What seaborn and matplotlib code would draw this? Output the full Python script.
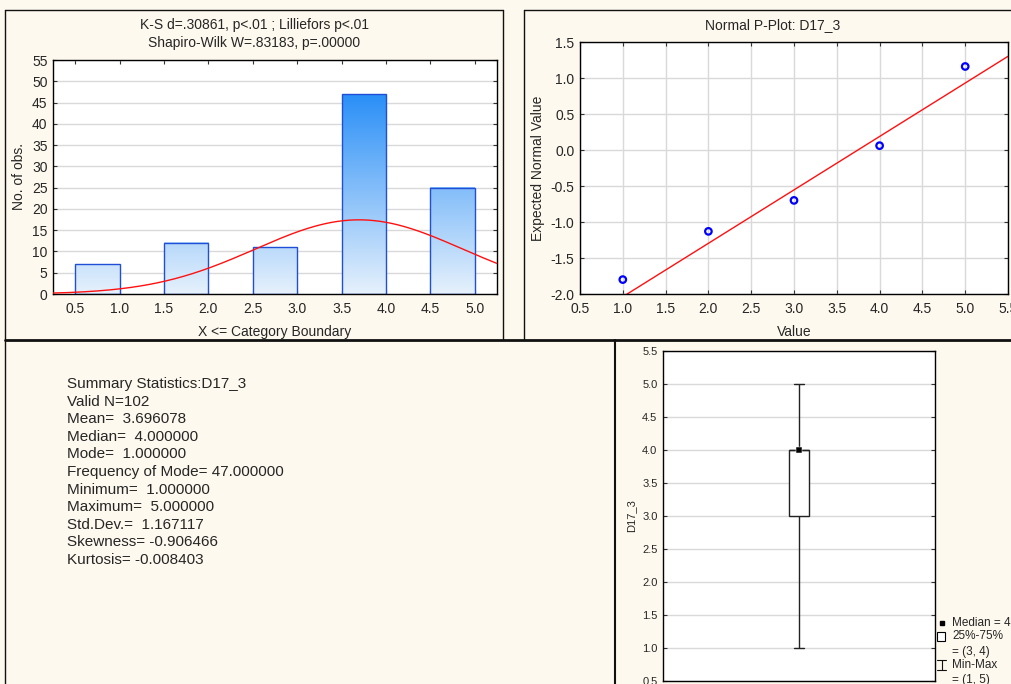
import numpy as np
import pandas as pd
import seaborn as sns
import matplotlib.pyplot as plt
from matplotlib.colors import LinearSegmentedColormap
from matplotlib.patches import Rectangle
from matplotlib.lines import Line2D

bin_centers = [0.75, 1.75, 2.75, 3.75, 4.75]
bin_counts = [7, 12, 11, 47, 25]
bin_width = 0.5
hist_xticks = [0.5, 1.0, 1.5, 2.0, 2.5, 3.0, 3.5, 4.0, 4.5, 5.0]

n_valid = 102
mean_val = 3.696078
std_val = 1.167117

pp_values = [1, 2, 3, 4, 5]
pp_expected = [-1.80, -1.13, -0.70, 0.06, 1.16]
fit_slope = 0.742
fit_intercept = -2.78

box_levels = [1, 2, 3, 4, 5]
box_median = 4.0

summary_lines = [
    "Summary Statistics:D17_3",
    "Valid N=102",
    "Mean=  3.696078",
    "Median=  4.000000",
    "Mode=  1.000000",
    "Frequency of Mode= 47.000000",
    "Minimum=  1.000000",
    "Maximum=  5.000000",
    "Std.Dev.=  1.167117",
    "Skewness= -0.906466",
    "Kurtosis= -0.008403",
]

# --- style ---
sns.set_style("white")
plt.rcParams['font.family'] = ['Liberation Sans', 'DejaVu Sans']
cream = '#fef9ee'
grid_col = '#d9d9d9'
FS = 10

W, H = 1011, 684
fig = plt.figure(figsize=(W / 100, H / 100), dpi=100, facecolor=cream)


def px_box(l, t, r, b):
    return [l / W, 1 - b / H, (r - l) / W, (b - t) / H]


def fig_line(xs, ys, lw=1.0):
    fig.add_artist(Line2D([x / W for x in xs], [1 - y / H for y in ys],
                          transform=fig.transFigure, color='#111111', lw=lw, zorder=-1))


# panel frames
fig_line([5, 5], [10, 684])
fig_line([5, 503], [10, 10])
fig_line([503, 503], [10, 340])
fig_line([524, 524], [10, 340])
fig_line([524, 1011], [10, 10])
fig_line([5, 1011], [340, 340], lw=2)
fig_line([615, 615], [340, 684], lw=1.5)


def style_axes(ax, fs, xpad=5.5, ypad=4):
    ax.set_facecolor('white')
    for s in ax.spines.values():
        s.set_color('black')
        s.set_linewidth(1)
        s.set_visible(True)
    ax.tick_params(direction='in', length=3, labelsize=fs, top=True, right=True,
                   left=True, bottom=True, color='#333333')
    ax.tick_params(axis='x', pad=xpad)
    ax.tick_params(axis='y', pad=ypad)


# --- histogram ---
ax1 = fig.add_axes(px_box(53, 60, 497, 294))
df_hist = pd.DataFrame({'x': bin_centers, 'n': bin_counts})
sns.barplot(data=df_hist, x='x', y='n', native_scale=True, width=bin_width,
            errorbar=None, facecolor='none', edgecolor='#1f4fd6', linewidth=1,
            ax=ax1)
grad = LinearSegmentedColormap.from_list('grad', ['#e6f1fc', '#2a8ff7'])
for p in ax1.patches:
    x0, y0 = p.get_x(), p.get_y()
    w, h = p.get_width(), p.get_height()
    col = np.linspace(0, h / 47, 256).reshape(-1, 1)
    ax1.imshow(col, cmap=grad, vmin=0, vmax=1, origin='lower', aspect='auto',
               extent=(x0, x0 + w, y0, y0 + h), zorder=0.8, interpolation='bilinear')
    p.set_zorder(1)

xs = np.linspace(0.25, 5.25, 300)
ys = n_valid * bin_width * np.exp(-0.5 * ((xs - mean_val) / std_val) ** 2) / (std_val * np.sqrt(2 * np.pi))
sns.lineplot(x=xs, y=ys, color='#ff1010', lw=1, ax=ax1, zorder=3)

ax1.set_xlim(0.25, 5.25)
ax1.set_ylim(0, 55)
ax1.set_xticks(hist_xticks)
ax1.set_xticklabels([f"{t:.1f}" for t in hist_xticks])
ax1.set_yticks(range(0, 56, 5))
ax1.yaxis.grid(True, color=grid_col, lw=1)
ax1.set_axisbelow(True)
style_axes(ax1, FS)
ax1.set_xlabel("X <= Category Boundary", fontsize=FS, labelpad=6.5)
ax1.set_ylabel("No. of obs.", fontsize=FS, labelpad=4)
fig.text(254 / W, 1 - 25 / H, "K-S d=.30861, p<.01 ; Lilliefors p<.01",
         ha='center', va='center', fontsize=FS)
fig.text(254 / W, 1 - 43 / H, "Shapiro-Wilk W=.83183, p=.00000",
         ha='center', va='center', fontsize=FS)

# --- normal probability plot ---
ax2 = fig.add_axes(px_box(580, 42, 1008, 294))
line_x = np.array([0.5, 5.5])
sns.lineplot(x=line_x, y=fit_slope * line_x + fit_intercept, color='#ff1010', lw=1, ax=ax2)
sns.scatterplot(x=pp_values, y=pp_expected, marker='o', s=22, facecolor='none',
                edgecolor='#0000ff', linewidth=1.6, ax=ax2, zorder=4)
ax2.set_xlim(0.5, 5.5)
ax2.set_ylim(-2.0, 1.5)
ax2.set_xticks(np.arange(0.5, 5.51, 0.5))
ax2.set_yticks(np.arange(-2.0, 1.51, 0.5))
ax2.xaxis.set_major_formatter(plt.FormatStrFormatter('%.1f'))
ax2.yaxis.set_major_formatter(plt.FormatStrFormatter('%.1f'))
ax2.grid(True, color=grid_col, lw=1)
ax2.set_axisbelow(True)
style_axes(ax2, FS)
ax2.set_xlabel("Value", fontsize=FS, labelpad=6.5)
ax2.set_ylabel("Expected Normal Value", fontsize=FS, labelpad=4)
fig.text(773 / W, 1 - 25 / H, "Normal P-Plot: D17_3", ha='center', va='center', fontsize=FS)

# --- summary text ---
for i, line in enumerate(summary_lines):
    fig.text(67 / W, 1 - (384 + i * 17.6) / H, line, ha='left', va='center', fontsize=11)

# --- box plot ---
ax3 = fig.add_axes(px_box(663, 351, 935, 681))
box_values = np.repeat(box_levels, bin_counts)
sns.boxplot(y=box_values, whis=(0, 100), width=0.0735, color='white', linecolor='#222222',
            linewidth=1, showfliers=False, ax=ax3)
sns.scatterplot(x=[0], y=[box_median], marker='s', s=18, color='black', ax=ax3, zorder=5)
ax3.set_xlim(-0.5, 0.5)
ax3.set_ylim(0.5, 5.5)
ax3.set_yticks(np.arange(0.5, 5.51, 0.5))
ax3.yaxis.set_major_formatter(plt.FormatStrFormatter('%.1f'))
ax3.set_xticks([])
ax3.yaxis.grid(True, color=grid_col, lw=1)
ax3.set_axisbelow(True)
style_axes(ax3, 8)
ax3.tick_params(top=False, bottom=False)
ax3.set_ylabel("D17_3", fontsize=8, labelpad=4)

# legend for the box plot, drawn beside the axes
LFS = 8.5
lx = 952 / W
fig.add_artist(Line2D([942 / W], [1 - 623 / H], marker='s', ms=3.5, color='black',
                      transform=fig.transFigure))
fig.text(lx, 1 - 623 / H, "Median = 4", fontsize=LFS, va='center')
fig.add_artist(Rectangle((937 / W, 1 - 641 / H), 8 / W, 9 / H, facecolor='white',
                         edgecolor='black', lw=0.8, transform=fig.transFigure))
fig.text(lx, 1 - 636 / H, "25%-75%", fontsize=LFS, va='center')
fig.text(lx, 1 - 652 / H, "= (3, 4)", fontsize=LFS, va='center')
fig_line([941.5, 941.5], [660, 670], lw=0.8)
fig_line([937, 946], [660, 660], lw=0.8)
fig_line([937, 946], [670, 670], lw=0.8)
fig.text(lx, 1 - 665 / H, "Min-Max", fontsize=LFS, va='center')
fig.text(lx, 1 - 680 / H, "= (1, 5)", fontsize=LFS, va='center')

fig.savefig("out.png", dpi=100, facecolor=cream)
